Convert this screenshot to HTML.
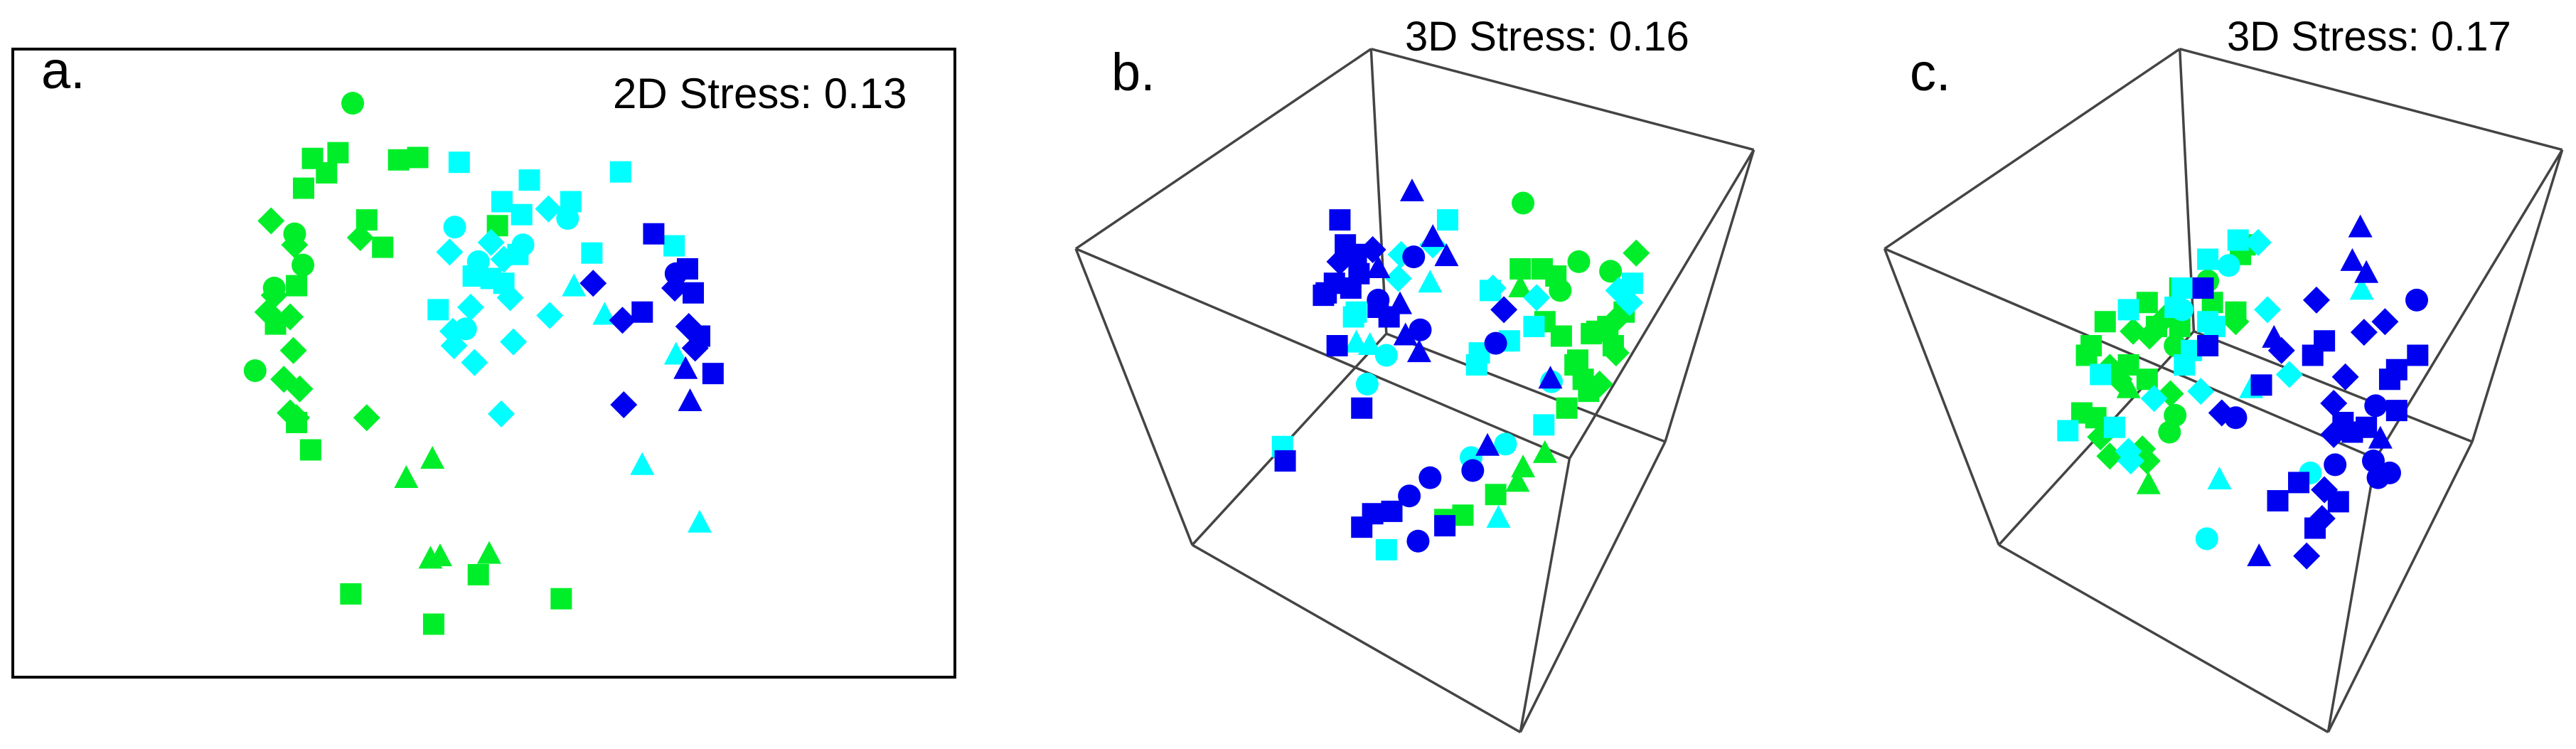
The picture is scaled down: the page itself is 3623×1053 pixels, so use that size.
<!DOCTYPE html>
<html><head><meta charset="utf-8"><style>
html,body{margin:0;padding:0;background:#fff;}
svg{display:block}
text{font-family:"Liberation Sans",sans-serif;fill:#000}
</style></head><body>
<svg id="s" width="3623" height="1053" viewBox="0 0 3623 1053" xmlns="http://www.w3.org/2000/svg">
<rect x="18" y="69" width="1325" height="883" fill="none" stroke="#000" stroke-width="4"/>
<text x="58" y="124" font-size="74">a.</text>
<text x="862" y="152" font-size="60">2D Stress: 0.13</text>
<text x="1563" y="127" font-size="74">b.</text>
<text x="1976" y="71" font-size="58">3D Stress: 0.16</text>
<text x="2686" y="127" font-size="74">c.</text>
<text x="3132" y="71" font-size="58">3D Stress: 0.17</text>
<g id="cubes" stroke="#444" stroke-width="3.5" fill="none"></g>
<g id="pts"></g>
</svg>
<script>
var NS="http://www.w3.org/2000/svg";
var COL={g:"#00ee2a",c:"#00ffff",b:"#0000f0"};
function el(n,a,p){var e=document.createElementNS(NS,n);for(var k in a)e.setAttribute(k,a[k]);p.appendChild(e);return e;}
var pts=document.getElementById("pts"),cubes=document.getElementById("cubes");
function mk(t,c,x,y){var f=COL[c];
 if(t=="s")el("rect",{x:x-15,y:y-15,width:30,height:30,fill:f},pts);
 else if(t=="c")el("circle",{cx:x,cy:y,r:16,fill:f},pts);
 else if(t=="d")el("polygon",{points:(x)+","+(y-19)+" "+(x+19)+","+y+" "+x+","+(y+19)+" "+(x-19)+","+y,fill:f},pts);
 else el("polygon",{points:x+","+(y-19)+" "+(x+17)+","+(y+13)+" "+(x-17)+","+(y+13),fill:f},pts);}
function panel(ox,sx,data){var L=data.trim().split(/\n/);L.forEach(function(l){l=l.trim();if(!l)return;var p=l.split(/\s+/);var t=p[0],c=p[1];for(var i=2;i<p.length;i++){var q=p[i].split(",");mk(t,c,ox+(+q[0])*sx,(+q[1])*0.675);}});}
function cube(ox,sx,V,E){E.forEach(function(e){var a=V[e[0]],b=V[e[1]];el("line",{x1:ox+a[0]*sx,y1:a[1]*0.675,x2:ox+b[0]*sx,y2:b[1]*0.675},cubes);});}
var EDG=[["A","B"],["A","C"],["A","F"],["C","D"],["B","E"],["B","D"],["E","G"],["D","G"],["H","G"],["C","H"],["H","F"],["F","E"]];
cube(1400,0.769,{A:[687,102],B:[1387,312],C:[147,518],F:[715,695],E:[1225,920],D:[1050,955],G:[960,1525],H:[360,1135]},EDG);
cube(2600,0.656,{A:[710,102],B:[1530,312],C:[77,518],F:[740,690],E:[1337,920],D:[1130,955],G:[1028,1525],H:[322,1135]},EDG);
panel(0,0.897,`
s g 490,330 530,318 512,360 476,392 625,333 655,328 575,458 600,515 780,470 432,675 465,595 487,937 465,880 550,1237 680,1300 750,1197 880,1247
d g 425,460 462,510 565,495 430,615 420,650 455,660 460,730 445,790 470,810 455,860 575,870 465,870
c g 553,215 462,487 475,552 400,772 430,600
t g 678,957 637,997 675,1165 690,1160 767,1155
s c 720,338 830,375 973,358 787,420 818,447 895,420 928,527 742,575 770,580 687,645 1057,512 812,530 790,590
c c 713,473 890,455 820,510 750,545 730,685
d c 860,435 705,525 770,505 790,540 800,620 738,640 710,690 712,720 805,712 862,657 744,755 786,862
t c 900,598 948,657 1060,740 1007,970 1097,1090
s b 1025,487 1078,560 1087,610 1007,650 1097,700 1118,778
c b 1060,570
d b 930,590 976,667 1058,600 1080,680 1090,725 978,843
t b 1075,770 1082,837
`);
panel(1400,0.769,`
c g 965,423 1067,545 1125,565 1033,605
d g 1172,527 1140,660 1135,735 1105,800
s g 960,560 1000,560 1025,575 1005,670 1035,700 1090,695 1100,690 1120,680 1150,650 1130,720 1065,750 1075,790 1085,815 1045,850 915,1030 855,1073 822,1082 1060,760
t g 960,600 1005,945 965,975 955,1005
s c 827,458 655,660 660,650 525,930 715,1145 905,605 940,710 885,735 880,760 985,680 1003,885 1165,590
d c 800,510 742,530 737,580 910,600 990,620 1140,605 1160,630
t c 795,590 660,715 685,720 920,1080
c c 715,740 680,800 1017,795 933,925 870,953
s b 630,458 640,510 660,530 605,610 620,590 665,570 700,640 720,660 625,720 670,850 530,960 725,1065 690,1070 670,1098 822,1095 600,615 650,600
d b 630,545 690,520 930,645
t b 762,400 700,560 740,635 825,535 800,495 750,700 775,735 1015,790 900,930
c b 765,535 700,625 777,687 915,715 873,980 795,995 757,1033 773,1127
`);
panel(2600,0.656,`
s g 840,530 850,510 780,630 710,600 640,630 550,670 520,720 510,740 600,760 660,680 710,680 640,790 500,860 530,870 830,650
d g 610,690 560,765 645,700 680,660 830,670 540,910 560,950 630,935 640,960 690,820 580,790
c g 770,585 700,720 700,865 688,900
t g 600,810 643,1010
s c 835,500 770,540 715,600 600,645 700,640 770,670 785,680 735,730 720,760 470,897 570,890 540,780
d c 878,505 898,645 755,815 605,960 600,940 945,780 655,830
c c 815,553 715,645 768,1122 990,985
t c 863,810 795,1000 1100,605
s b 1020,710 995,740 760,600 770,720 1220,740 1175,770 1160,790 1175,855 885,802 1080,900 1110,890 965,1005 920,1043 1050,1045 1000,1100 1060,880
d b 1003,625 1150,670 1105,692 928,730 1065,785 1040,840 800,860 1040,905 1020,1020 1015,1080 982,1158
t b 1097,475 1080,545 1110,570 912,705 1140,915 880,1160
c b 1218,625 1130,845 830,870 1125,960 1135,995 1160,985 1043,968
`);
</script>
</body></html>
